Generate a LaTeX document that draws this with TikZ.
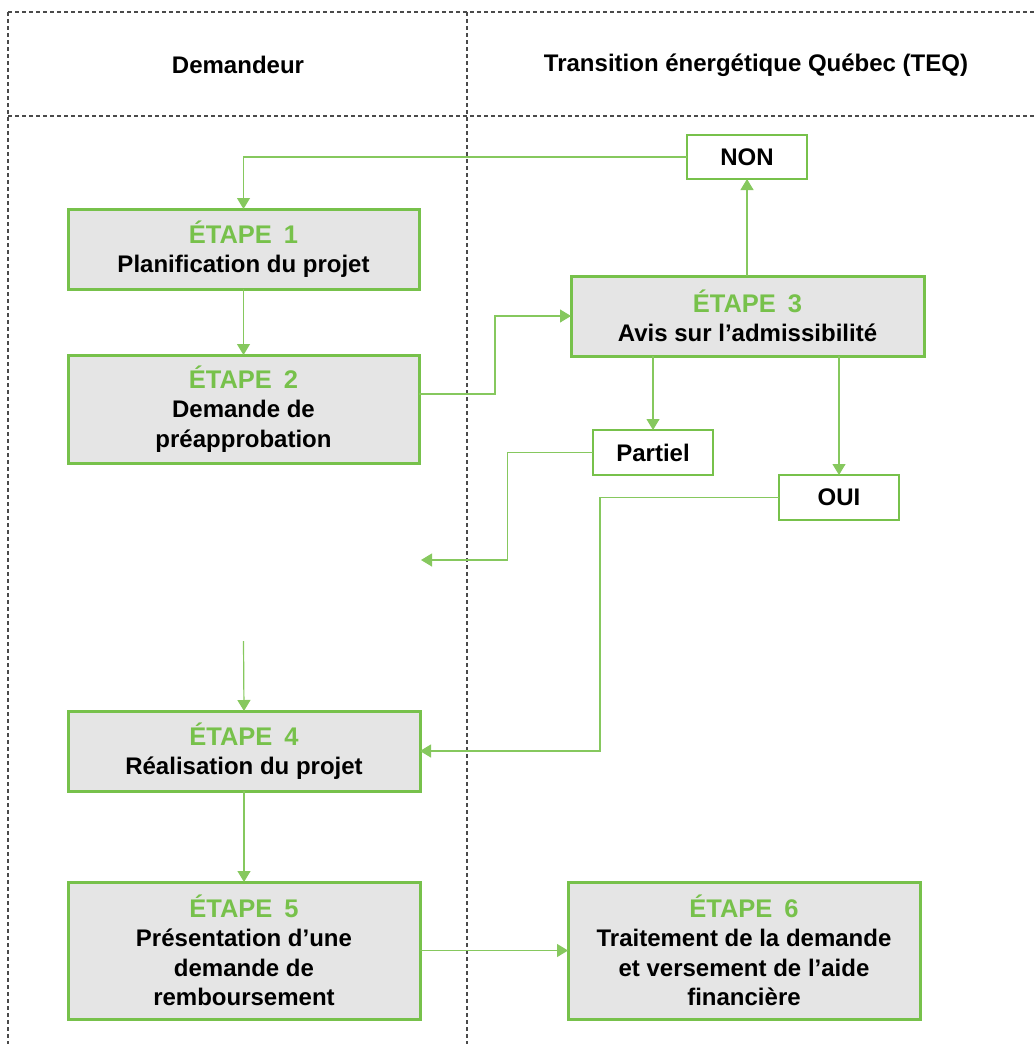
\documentclass[tikz,border=0pt]{standalone}
\usepackage{fontspec}
\setmainfont{Liberation Sans}
\usetikzlibrary{arrows.meta,positioning,calc}
\definecolor{stepgreen}{HTML}{77C14B}
\definecolor{conngreen}{HTML}{86C85E}
\definecolor{boxfill}{HTML}{E5E5E5}
\definecolor{gridgray}{HTML}{4A4A4A}
\newcommand{\etape}[1]{{\fontsize{25.5}{29.5}\selectfont\textcolor{stepgreen}{ÉTAPE\hspace{12pt}#1}}}
\tikzset{
  grid/.style={draw=gridgray, line width=1.2pt, dash pattern=on 4pt off 3pt},
  stepbox/.style={draw=stepgreen, line width=3pt, fill=boxfill, inner sep=0pt, outer sep=0pt,
    minimum width=351pt, align=center, font=\fontsize{24}{29.5}\selectfont\bfseries},
  choice/.style={draw=stepgreen, line width=2.4pt, fill=white, inner sep=0pt, outer sep=0pt,
    minimum width=120pt, minimum height=44pt, font=\fontsize{24}{28}\selectfont\bfseries},
  head/.style={font=\fontsize{24}{28}\selectfont\bfseries, inner sep=0pt},
  conn/.style={draw=conngreen, line width=1.2pt, -{Triangle[length=11pt,width=13pt]}}
}
\begin{document}
\begin{tikzpicture}[x=1pt,y=-1pt]
\useasboundingbox (0,0) rectangle (1035,1044);
% grid
\draw[grid] (8,12) -- (1035,12);
\draw[grid] (8,116) -- (1035,116);
\draw[grid] (8,12) -- (8,1044);
\draw[grid] (467,12) -- (467,1044);
% headers
\node[head] (h1) at (238,65) {Demandeur};
\node[head] (h2) at (756,65) {Transition énergétique Québec (TEQ)};
% step boxes
\node[stepbox, minimum height=80pt] (e1) at (243.5,249) {\etape{1}\\Planification du projet};
\node[stepbox, minimum height=108pt] (e2) at (243.5,409) {\etape{2}\\Demande de\\préapprobation};
\node[stepbox, minimum width=353pt, minimum height=80pt] (e3) at (747.5,316) {\etape{3}\\Avis sur l’admissibilité};
\node[stepbox, minimum width=352pt, minimum height=80pt] (e4) at (244,751) {\etape{4}\\Réalisation du projet};
\node[stepbox, minimum width=352pt, minimum height=137pt] (e5) at (244,950.5) {\etape{5}\\Présentation d’une\\demande de\\remboursement};
\node[stepbox, minimum width=352pt, minimum height=137pt] (e6) at (744,950.5) {\etape{6}\\Traitement de la demande\\et versement de l’aide\\financière};
% choice boxes
\node[choice] (non) at (747,157) {NON};
\node[choice, minimum height=45pt] (partiel) at (653,452.5) {Partiel};
\node[choice, minimum height=45pt] (oui) at (839,497.5) {OUI};
% free ends
\coordinate (pend) at (421,560);
\coordinate (pstart) at (243.5,641);
% connectors
\draw[conn] (non.west) -| (e1.north);
\draw[conn] (e1.south) -- (e2.north);
\draw[conn] ([yshift=15pt]e2.east) -- ++(76pt,0) |- (e3.west);
\draw[conn] (e3.north -| non.south) -- (non.south);
\draw[conn] (partiel.north |- e3.south) -- (partiel.north);
\draw[conn] (oui.north |- e3.south) -- (oui.north);
\draw[conn] (partiel.west) -- ++(-85.5pt,0) |- (pend);
\draw[conn] (oui.west) -- ++(-179pt,0) |- (e4.east);
\draw[conn] (pstart) -- (e4.north);
\draw[conn] (e4.south) -- (e5.north);
\draw[conn] (e5.east) -- (e6.west);
\end{tikzpicture}
\end{document}
